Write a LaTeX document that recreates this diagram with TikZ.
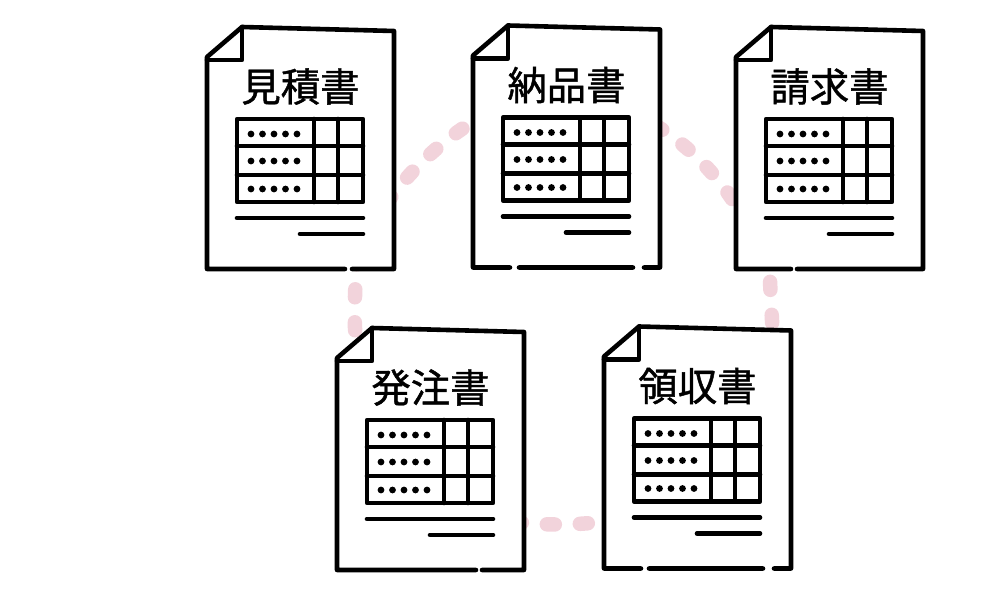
\documentclass[tikz,border=0pt]{standalone}
\usepackage{fontspec}
\usetikzlibrary{backgrounds}
\newfontfamily\titlefont[FakeBold=1.1]{Noto Sans CJK JP}
\definecolor{linkpink}{HTML}{F2D3DB}
\tikzset{
  sheet/.style={minimum width=33.4mm, minimum height=44.4mm, inner sep=0pt},
  outline/.style={line width=0.92mm, line join=round, line cap=round},
  doctitle/.style={font=\titlefont\fontsize{22.4}{22.4}\selectfont, inner sep=0pt},
  datadot/.style={fill, radius=0.68mm},
  linkdash/.style={linkpink, line width=2.9mm, line cap=round, dash pattern=on 1.6mm off 5mm}
}
\newcommand{\docsheet}[6]{
  \begin{scope}[shift={#2}]
    \node[sheet] (#1) at (93.5,121) {};
    \fill[white] (0,30) -- (35,0) -- (187,4) -- (187,242) -- (0,242) -- cycle;
    \draw[outline] (#4,242) -- (0,242) -- (0,30) -- (35,0) -- (187,4) -- (187,242) -- (#5,242) #6;
    \draw[outline] (0,33) -- (35,33) -- (35,0);
    \node[doctitle] (#1title) at (93.5,59.5) {#3};
    \draw[outline] (30,92) rectangle (156,175);
    \draw[outline] (30,119) -- (156,119);
    \draw[outline] (30,148) -- (156,148);
    \draw[outline] (107,92) -- (107,175);
    \draw[outline] (131,92) -- (131,175);
    \foreach \rowy in {107,134,162}
      \foreach \dotx in {44,55.5,67,78.5,90}
        \fill[datadot] (\dotx,\rowy) circle;
    \draw[outline] (30,191) -- (156,191);
    \draw[outline] (93,207) -- (156,207);
  \end{scope}
}
\begin{document}
\begin{tikzpicture}[x=0.2mm, y=-0.2mm]
  \useasboundingbox (0,0) rectangle (1000,600);
  \docsheet{quote}{(207,27)}{見積書}{138}{145}{}
  \docsheet{delivery}{(473,25.5)}{納品書}{37}{171}{(46,242) -- (160,242)}
  \docsheet{invoice}{(736,27)}{請求書}{55}{61}{}
  \docsheet{order}{(337,328)}{発注書}{139}{145}{}
  \docsheet{receipt}{(604,326.5)}{領収書}{37}{170}{(45,242) -- (159,242)}
  \begin{pgfonlayer}{background}
    \draw[linkdash, dash phase=5.8mm] (quote.-35.2) .. controls (405,176) and (440,140) .. (delivery.160.5);
    \draw[linkdash, dash phase=5.4mm] (delivery.16.35) .. controls (685,142) and (720,175) .. (invoice.221.6);
    \draw[linkdash, dash phase=2.1mm] (invoice.-118.2) .. controls (769,285) and (772,310) .. (receipt.56.5);
    \draw[linkdash, dash phase=1.4mm] (receipt.221.7) .. controls (580,525) and (550,526) .. (order.-41.9);
    \draw[linkdash, dash phase=0.6mm] (quote.-63.8) .. controls (355,285) and (354,310) .. (order.124.9);
  \end{pgfonlayer}
\end{tikzpicture}
\end{document}
